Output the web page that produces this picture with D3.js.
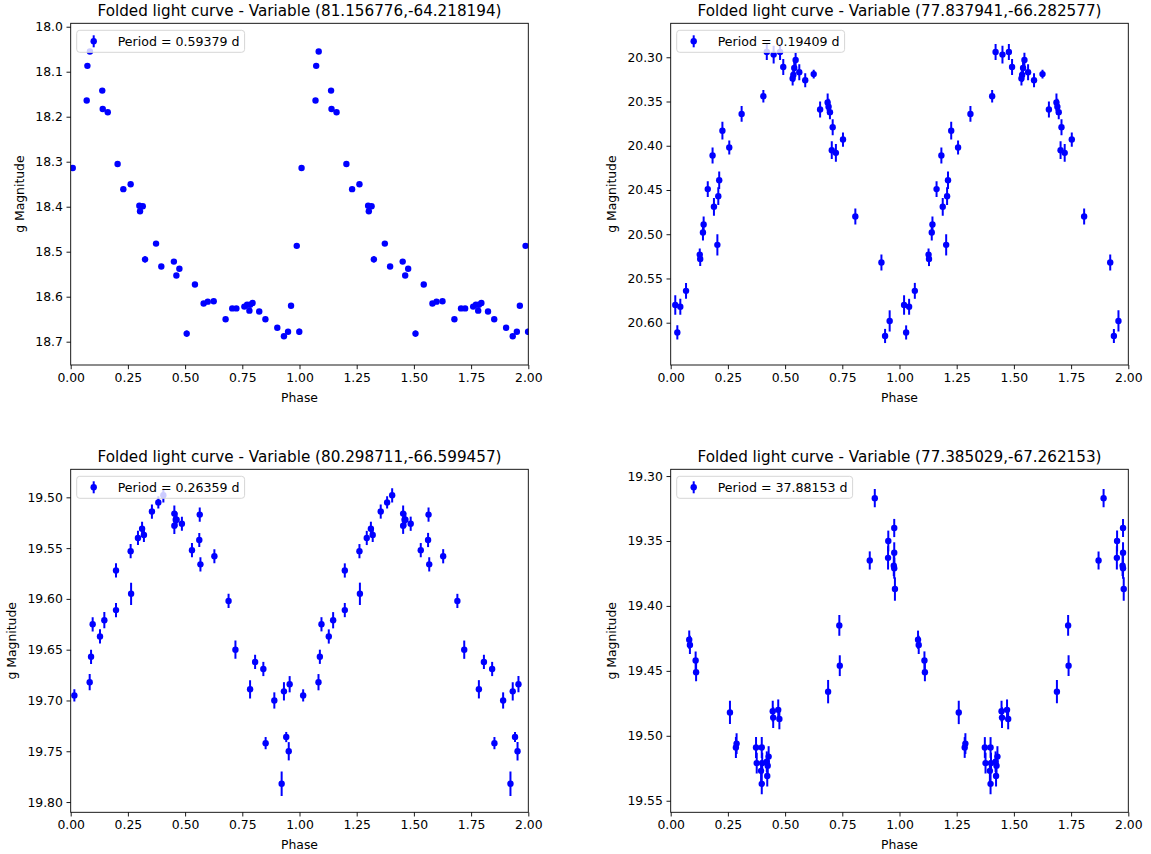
<!DOCTYPE html>
<html>
<head>
<meta charset="utf-8">
<script src="https://cdn.jsdelivr.net/npm/d3@7"></script>
<style>
  html, body { margin: 0; padding: 0; background: #fff; }
  svg text { font-family: "DejaVu Sans", sans-serif; fill: #000; }
</style>
</head>
<body>
<svg id="chart" width="1151" height="854"></svg>
<script>
// ---------------- data ----------------
const titles = [
  "Folded light curve - Variable (81.156776,-64.218194)",
  "Folded light curve - Variable (77.837941,-66.282577)",
  "Folded light curve - Variable (80.298711,-66.599457)",
  "Folded light curve - Variable (77.385029,-67.262153)"
];
const legendLabels = [
  "Period = 0.59379 d",
  "Period = 0.19409 d",
  "Period = 0.26359 d",
  "Period = 37.88153 d"
];
const xTickValues = [0, 0.25, 0.5, 0.75, 1.0, 1.25, 1.5, 1.75, 2.0];
const yTicks1 = [18.0, 18.1, 18.2, 18.3, 18.4, 18.5, 18.6, 18.7];
const yTicks2 = [20.30, 20.35, 20.40, 20.45, 20.50, 20.55, 20.60];
const yTicks3 = [19.50, 19.55, 19.60, 19.65, 19.70, 19.75, 19.80];
const yTicks4 = [19.30, 19.35, 19.40, 19.45, 19.50, 19.55];

// panel 1
const phase1 = [0.009,0.070,0.073,0.084,0.138,0.140,0.162,0.205,0.230,0.262,0.300,0.303,0.315,0.325,0.373,0.396,0.451,0.462,0.475,0.507,0.543,0.581,0.599,0.625,0.677,0.706,0.724,0.759,0.771,0.781,0.784,0.795,0.824,0.851,0.903,0.932,0.950,0.963,0.988,0.999];
const mag1   = [18.314,18.164,18.087,18.055,18.142,18.183,18.190,18.305,18.361,18.350,18.398,18.410,18.399,18.517,18.482,18.533,18.522,18.553,18.538,18.682,18.573,18.615,18.611,18.610,18.650,18.626,18.626,18.622,18.618,18.631,18.618,18.614,18.633,18.650,18.669,18.688,18.678,18.620,18.487,18.678];
const err1   = [0.003,0.003,0.003,0.003,0.003,0.003,0.003,0.003,0.003,0.003,0.003,0.003,0.003,0.007,0.003,0.003,0.003,0.003,0.003,0.007,0.003,0.003,0.003,0.003,0.003,0.003,0.003,0.003,0.003,0.003,0.003,0.003,0.003,0.003,0.003,0.003,0.003,0.003,0.003,0.007];

// panel 2
const phase2 = [0.020,0.029,0.042,0.067,0.127,0.129,0.141,0.144,0.162,0.183,0.189,0.204,0.208,0.212,0.226,0.256,0.310,0.405,0.420,0.450,0.478,0.492,0.533,0.536,0.540,0.546,0.562,0.588,0.625,0.653,0.686,0.690,0.696,0.704,0.708,0.722,0.753,0.807,0.921,0.937,0.957];
const mag2   = [20.580,20.611,20.582,20.564,20.523,20.528,20.498,20.489,20.449,20.411,20.469,20.512,20.457,20.439,20.383,20.402,20.364,20.344,20.294,20.297,20.294,20.311,20.324,20.320,20.312,20.303,20.317,20.326,20.319,20.359,20.351,20.356,20.362,20.405,20.379,20.408,20.393,20.480,20.532,20.615,20.598];
const err2   = [0.011,0.008,0.009,0.009,0.007,0.008,0.009,0.009,0.009,0.009,0.010,0.012,0.010,0.010,0.010,0.008,0.009,0.007,0.009,0.010,0.009,0.009,0.008,0.008,0.009,0.008,0.009,0.008,0.005,0.009,0.010,0.009,0.008,0.010,0.009,0.010,0.008,0.009,0.009,0.008,0.012];

// panel 3
const phase3 = [0.016,0.083,0.089,0.096,0.128,0.147,0.198,0.198,0.262,0.264,0.294,0.312,0.320,0.355,0.383,0.405,0.453,0.453,0.459,0.463,0.486,0.530,0.562,0.564,0.567,0.628,0.690,0.720,0.784,0.806,0.842,0.852,0.890,0.922,0.932,0.942,0.953,0.957];
const mag3   = [19.695,19.682,19.657,19.625,19.637,19.621,19.572,19.611,19.553,19.595,19.540,19.531,19.537,19.514,19.505,19.498,19.516,19.528,19.522,19.522,19.526,19.552,19.542,19.517,19.566,19.558,19.602,19.650,19.689,19.662,19.669,19.742,19.700,19.782,19.691,19.736,19.750,19.684];
const err3   = [0.006,0.008,0.007,0.007,0.007,0.008,0.007,0.007,0.007,0.011,0.007,0.007,0.007,0.007,0.006,0.007,0.008,0.008,0.007,0.007,0.007,0.007,0.007,0.007,0.007,0.007,0.007,0.009,0.009,0.007,0.007,0.006,0.008,0.012,0.009,0.005,0.009,0.008];

// panel 4
const phase4 = [0.081,0.084,0.109,0.111,0.259,0.285,0.288,0.373,0.376,0.395,0.398,0.398,0.400,0.420,0.422,0.424,0.428,0.446,0.448,0.470,0.475,0.688,0.737,0.739,0.870,0.892,0.950,0.951,0.975,0.977,0.977,0.977,0.980];
const mag4   = [19.426,19.430,19.442,19.451,19.482,19.509,19.506,19.509,19.521,19.527,19.509,19.537,19.521,19.520,19.531,19.523,19.516,19.481,19.486,19.480,19.487,19.466,19.415,19.446,19.365,19.317,19.363,19.350,19.369,19.340,19.359,19.371,19.387];
const err4   = [0.007,0.007,0.007,0.007,0.009,0.008,0.008,0.008,0.008,0.008,0.008,0.008,0.008,0.008,0.008,0.008,0.008,0.008,0.008,0.008,0.008,0.009,0.008,0.008,0.007,0.007,0.009,0.008,0.008,0.007,0.008,0.008,0.009];

// y-axis limits
const yDomain1 = [17.9924, 18.7518];
const yDomain2 = [20.2616, 20.6478];
const yDomain3 = [19.4724, 19.8101];
const yDomain4 = [19.2948, 19.5589];

// ---------------- layout ----------------
const colLeft = [70.7, 670.7];
const plotW = 457.6;
const rowTop = [23.3, 469.3];
const rowBottom = [365, 812.3];
const BLUE = "#0000ff";
const tickFont = 12.4;

const panels = [
  {col:0,row:0,phase:phase1,mag:mag1,err:err1,yDomain:yDomain1,yTicks:yTicks1,fmt:".1f"},
  {col:1,row:0,phase:phase2,mag:mag2,err:err2,yDomain:yDomain2,yTicks:yTicks2,fmt:".2f"},
  {col:0,row:1,phase:phase3,mag:mag3,err:err3,yDomain:yDomain3,yTicks:yTicks3,fmt:".2f"},
  {col:1,row:1,phase:phase4,mag:mag4,err:err4,yDomain:yDomain4,yTicks:yTicks4,fmt:".2f"}
];

const svg = d3.select("#chart");
svg.append("rect").attr("width",1151).attr("height",854).attr("fill","#fff");

panels.forEach((p, i) => {
  const L = colLeft[p.col], R = L + plotW, T = rowTop[p.row], B = rowBottom[p.row];
  const x = d3.scaleLinear().domain([0, 2]).range([L, R]);
  const y = d3.scaleLinear().domain(p.yDomain).range([T, B]);
  const g = svg.append("g");

  const clipId = "clip" + i;
  svg.append("defs").append("clipPath").attr("id", clipId)
    .append("rect").attr("x", L).attr("y", T).attr("width", R - L).attr("height", B - T);

  // fold: each point at phase and phase+1
  const pts = [];
  p.phase.forEach((ph, k) => {
    pts.push({ph: ph, m: p.mag[k], e: p.err[k]});
    pts.push({ph: ph + 1, m: p.mag[k], e: p.err[k]});
  });

  const data = g.append("g").attr("clip-path", `url(#${clipId})`);
  data.selectAll("line.eb").data(pts).join("line").attr("class","eb")
    .attr("x1", d => x(d.ph)).attr("x2", d => x(d.ph))
    .attr("y1", d => y(d.m - d.e)).attr("y2", d => y(d.m + d.e))
    .attr("stroke", BLUE).attr("stroke-width", 2);
  data.selectAll("circle").data(pts).join("circle")
    .attr("cx", d => x(d.ph)).attr("cy", d => y(d.m)).attr("r", 3.2)
    .attr("fill", BLUE);

  // axes
  const xAxis = d3.axisBottom(x).tickValues(xTickValues).tickFormat(d3.format(".2f"))
    .tickSize(4.2).tickPadding(3.6);
  const gx = g.append("g").attr("transform", `translate(0,${B})`).call(xAxis);
  const yAxis = d3.axisLeft(y).tickValues(p.yTicks).tickFormat(d3.format(p.fmt))
    .tickSize(4.2).tickPadding(3.6);
  const gy = g.append("g").attr("transform", `translate(${L},0)`).call(yAxis);
  [gx, gy].forEach(a => {
    a.select(".domain").remove();
    a.selectAll(".tick line").attr("stroke", "#000").attr("stroke-width", 0.9);
    a.selectAll(".tick text").attr("font-size", tickFont).attr("font-family", "DejaVu Sans").attr("fill", "#000");
  });

  // frame
  g.append("rect").attr("x", L).attr("y", T).attr("width", R - L).attr("height", B - T)
    .attr("fill", "none").attr("stroke", "#000").attr("stroke-width", 0.9);

  // labels
  g.append("text").attr("x", (L + R) / 2).attr("y", T - 7.6)
    .attr("text-anchor", "middle").attr("font-size", 15.2).text(titles[i]);
  g.append("text").attr("x", (L + R) / 2).attr("y", B + 37)
    .attr("text-anchor", "middle").attr("font-size", tickFont).text("Phase");
  let minX = Infinity;
  gy.selectAll(".tick text").each(function() {
    const bb = this.getBBox();
    minX = Math.min(minX, L + bb.x);
  });
  const ylx = minX - 11;
  g.append("text").attr("transform", `translate(${ylx},${(T + B) / 2}) rotate(-90)`)
    .attr("text-anchor", "middle").attr("font-size", tickFont).text("g Magnitude");

  // legend
  const lg = g.append("g");
  const lx = L + 6, ly = T + 7, lh = 22;
  const rect = lg.append("rect").attr("x", lx).attr("y", ly).attr("height", lh).attr("rx", 3)
    .attr("fill", "#fff").attr("fill-opacity", 0.8).attr("stroke", "#d6d6d6").attr("stroke-width", 1);
  const mx = lx + 17, my = ly + lh / 2;
  lg.append("line").attr("x1", mx).attr("x2", mx).attr("y1", my - 6).attr("y2", my + 6)
    .attr("stroke", BLUE).attr("stroke-width", 2);
  lg.append("circle").attr("cx", mx).attr("cy", my).attr("r", 3.2).attr("fill", BLUE);
  const lt = lg.append("text").attr("x", lx + 41).attr("y", my + 4.5)
    .attr("font-size", 12.6).text(legendLabels[i]);
  const tw = lt.node().getComputedTextLength();
  rect.attr("width", 41 + tw + 5);
});
</script>
</body>
</html>
